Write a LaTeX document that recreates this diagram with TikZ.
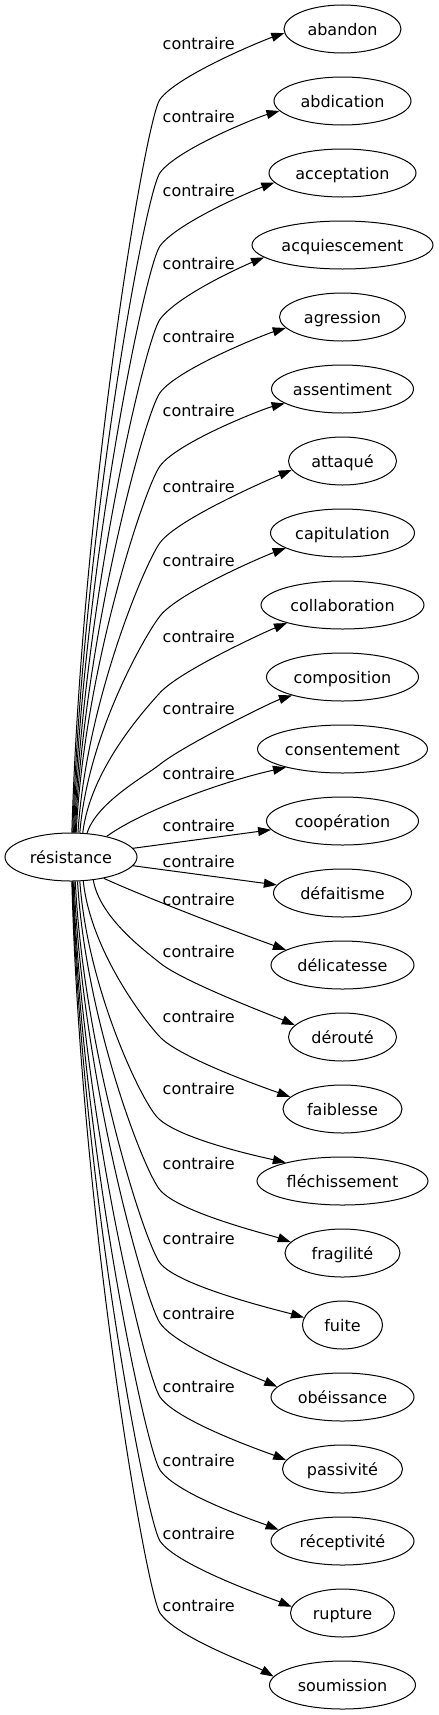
\documentclass[tikz,border=0pt]{standalone}
\usepackage{fontspec}
\setmainfont{DejaVu Sans}
\usetikzlibrary{arrows.meta,shapes.geometric}
\begin{document}
\begin{tikzpicture}[x=1bp,y=-1bp,
  every node/.style={font=\fontsize{16bp}{19bp}\selectfont},
  word/.style={draw, ellipse, line width=1bp, inner sep=0pt, minimum height=48bp, text height=12bp, text depth=0pt},
  lab/.style={anchor=base west, inner sep=0pt},
  conn/.style={line width=1bp, -{Triangle[length=13bp,width=9bp]}}]
\useasboundingbox (0,0) rectangle (439,1715);
\node[word, minimum width=132bp] (res) at (71,857) {résistance};
\node[word, minimum width=117bp] (t1) at (342.5,29) {abandon};
\node[word, minimum width=137bp] (t2) at (342.5,101) {abdication};
\node[word, minimum width=147bp] (t3) at (342.5,173) {acceptation};
\node[word, minimum width=181bp] (t4) at (342.5,245) {acquiescement};
\node[word, minimum width=126bp] (t5) at (342.5,317) {agression};
\node[word, minimum width=142bp] (t6) at (342.5,389) {assentiment};
\node[word, minimum width=108bp] (t7) at (342.5,461) {attaqué};
\node[word, minimum width=144bp] (t8) at (342.5,533) {capitulation};
\node[word, minimum width=163bp] (t9) at (342.5,605) {collaboration};
\node[word, minimum width=152bp] (t10) at (342.5,677) {composition};
\node[word, minimum width=170bp] (t11) at (342.5,749) {consentement};
\node[word, minimum width=152bp] (t12) at (342.5,821) {coopération};
\node[word, minimum width=138bp] (t13) at (342.5,893) {défaitisme};
\node[word, minimum width=143bp] (t14) at (342.5,965) {délicatesse};
\node[word, minimum width=108bp] (t15) at (342.5,1037) {dérouté};
\node[word, minimum width=119bp] (t16) at (342.5,1109) {faiblesse};
\node[word, minimum width=171bp] (t17) at (342.5,1181) {fléchissement};
\node[word, minimum width=115bp] (t18) at (342.5,1253) {fragilité};
\node[word, minimum width=80bp] (t19) at (342.5,1325) {fuite};
\node[word, minimum width=143bp] (t20) at (342.5,1397) {obéissance};
\node[word, minimum width=120bp] (t21) at (342.5,1469) {passivité};
\node[word, minimum width=143bp] (t22) at (342.5,1541) {réceptivité};
\node[word, minimum width=104bp] (t23) at (342.5,1613) {rupture};
\node[word, minimum width=146bp] (t24) at (342.5,1685) {soumission};
\node[lab] (l1) at (162.5,49.3) {contraire};
\node[lab] (l2) at (162.5,122.7) {contraire};
\node[lab] (l3) at (162.5,196) {contraire};
\node[lab] (l4) at (162.5,269.3) {contraire};
\node[lab] (l5) at (162.5,342.7) {contraire};
\node[lab] (l6) at (162.5,416) {contraire};
\node[lab] (l7) at (162.5,492.7) {contraire};
\node[lab] (l8) at (162.5,566) {contraire};
\node[lab] (l9) at (162.5,642.7) {contraire};
\node[lab] (l10) at (162.5,714.3) {contraire};
\node[lab] (l11) at (162.5,779.3) {contraire};
\node[lab] (l12) at (162.5,831) {contraire};
\node[lab] (l13) at (162.5,867.7) {contraire};
\node[lab] (l14) at (162.5,905) {contraire};
\node[lab] (l15) at (162.5,957.7) {contraire};
\node[lab] (l16) at (162.5,1022.7) {contraire};
\node[lab] (l17) at (162.5,1094.3) {contraire};
\node[lab] (l18) at (162.5,1169.3) {contraire};
\node[lab] (l19) at (162.5,1244.3) {contraire};
\node[lab] (l20) at (162.5,1319.3) {contraire};
\node[lab] (l21) at (162.5,1392.7) {contraire};
\node[lab] (l22) at (162.5,1466) {contraire};
\node[lab] (l23) at (162.5,1539.3) {contraire};
\node[lab] (l24) at (162.5,1611) {contraire};
\draw[conn] (res.88) .. controls (81.7,503) and (145.2,119.4) .. (160,99.3) .. controls (177.8,75.1) and (264,40) .. (t1.184);
\draw[conn] (res.86) .. controls (82.6,536) and (145.2,192.8) .. (160,172.7) .. controls (177.8,148.6) and (259,116.7) .. (t2.189);
\draw[conn] (res.84) .. controls (83.2,569) and (145.2,266.1) .. (160,246) .. controls (177.8,221.9) and (254.8,189.8) .. (t3.188);
\draw[conn] (res.82) .. controls (84,602) and (145.2,339.4) .. (160,319.3) .. controls (177.8,295.2) and (243.9,265.6) .. (t4.189);
\draw[conn] (res.80) .. controls (84.4,635) and (145.2,412.8) .. (160,392.7) .. controls (177.8,368.6) and (265.4,334.2) .. (t5.191);
\draw[conn] (res.78) .. controls (84.4,668) and (145.2,486.1) .. (160,466) .. controls (177.8,441.9) and (263.6,408.7) .. (t6.194);
\draw[conn] (res.74) .. controls (86.1,702.4) and (145.2,562.8) .. (160,542.7) .. controls (177.8,518.6) and (272.1,478.1) .. (t7.190);
\draw[conn] (res.70) .. controls (87.7,735.4) and (144.6,635.7) .. (160,616) .. controls (178.5,592.4) and (265.6,555.4) .. (t8.195);
\draw[conn] (res.64) .. controls (90.3,770.1) and (143.2,711.2) .. (160,692.7) .. controls (180.2,670.5) and (268,630.7) .. (t9.198);
\draw[conn] (res.56) .. controls (96.7,802.5) and (144.4,776.8) .. (160,764.3) .. controls (183.4,745.5) and (271.4,702.1) .. (t10.200);
\draw[conn] (res.30) .. controls (140,812) and (220,782) .. (t11.198);
\draw[conn] (res.8) -- (t12.187);
\draw[conn] (res.-8) -- (t13.173);
\draw[conn] (res.-33) .. controls (140,895) and (225,928) .. (t14.165);
\draw[conn] (res.-46) .. controls (99.7,917.4) and (144.5,950.4) .. (160,963) .. controls (183.3,981.9) and (275.7,1016.9) .. (t15.166);
\draw[conn] (res.-63) .. controls (90.7,950.7) and (144.8,1021.1) .. (160,1037) .. controls (180.7,1058.7) and (270.7,1089.9) .. (t16.167);
\draw[conn] (res.-70) .. controls (87.4,987.1) and (140.2,1098.5) .. (157,1117) .. controls (177.2,1139.2) and (265,1157.8) .. (t17.162);
\draw[conn] (res.-75) .. controls (85.7,1020) and (143.8,1170.9) .. (160,1190) .. controls (179.4,1212.9) and (271,1235.2) .. (t18.168);
\draw[conn] (res.-80) .. controls (83.7,1052.9) and (144.7,1243.3) .. (160,1263) .. controls (178.4,1286.7) and (283.7,1311.6) .. (t19.169);
\draw[conn] (res.-83) .. controls (82.6,1079.9) and (145.7,1302.5) .. (160,1323) .. controls (177.2,1347.6) and (257.9,1378.1) .. (t20.171);
\draw[conn] (res.-85) .. controls (81.8,1113.2) and (145.8,1376.4) .. (160,1397) .. controls (177,1421.7) and (266.7,1452.4) .. (t21.171);
\draw[conn] (res.-86) .. controls (81.4,1146) and (145.9,1449.4) .. (160,1470) .. controls (176.9,1494.8) and (259.1,1522.1) .. (t22.170);
\draw[conn] (res.-87) .. controls (81.1,1178) and (146.1,1520.2) .. (160,1541) .. controls (176.7,1565.9) and (272.3,1598.8) .. (t23.173);
\draw[conn] (res.-88) .. controls (80.6,1210.4) and (146,1592.3) .. (160,1613) .. controls (176.8,1637.8) and (255.2,1665.9) .. (t24.173);
\end{tikzpicture}
\end{document}
